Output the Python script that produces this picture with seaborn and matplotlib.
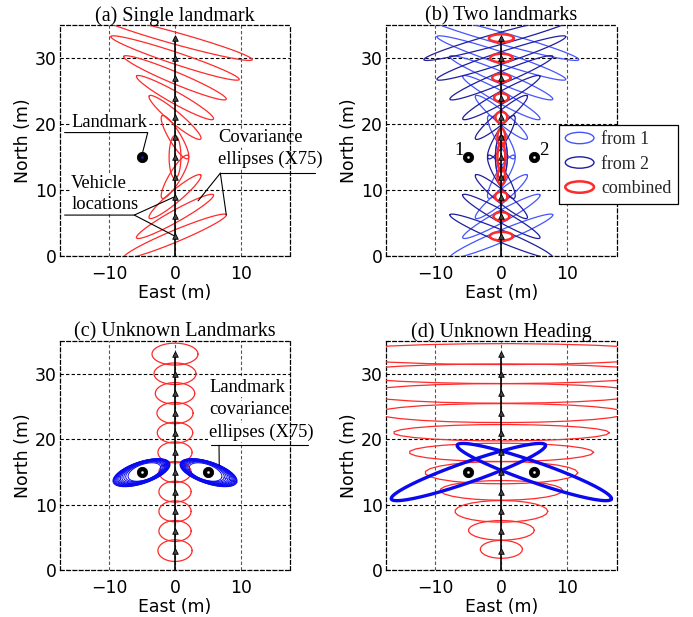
import numpy as np
import matplotlib
matplotlib.use("Agg")
import matplotlib.pyplot as plt
import matplotlib.patches as mpatches
from matplotlib.legend_handler import HandlerPatch
import seaborn as sns

# ---------------- data ----------------
# vehicle stops along the straight track (m north, east = 0)
veh_y = [3, 6, 9, 12, 15, 18, 21, 24, 27, 30, 33]
track_y = [0, 33]
landmark_x = [-5, 5]
landmark_y = [15, 15]

# (a)/(b) ellipses from a single landmark (landmark 1), X75: semi-axes and tilt (deg)
single_a = [8.45, 6.7, 5.1, 3.8, 3.25, 3.8, 5.1, 6.7, 8.45, 10.3, 12.2]
single_b = [0.9, 0.9, 0.9, 0.9, 0.9, 0.9, 0.9, 0.9, 0.9, 0.9, 0.9]
single_ang = [22.6, 29.1, 39.8, 59.0, 90.0, 121.0, 140.2, 150.9, 157.4, 161.6, 164.5]

# (b) combined ellipses: semi-axes east / north
comb_sx = [1.75, 1.2, 0.95, 0.6, 0.6, 0.6, 0.9, 1.1, 1.4, 1.7, 1.9]
comb_sy = [0.65, 0.65, 0.75, 1.2, 2.2, 1.3, 0.85, 0.65, 0.6, 0.65, 0.6]

# (c) vehicle ellipses with unknown landmarks
unk_sx = [2.6, 2.45, 2.45, 2.45, 2.45, 2.6, 2.7, 2.75, 3.0, 3.2, 3.5]
unk_sy = [1.65, 1.6, 1.6, 1.6, 1.6, 1.6, 1.6, 1.62, 1.65, 1.65, 1.67]
# (c) landmark covariance ellipses (left landmark; right one is mirrored)
lmcov_a = [4.55, 4.47, 4.38, 4.28, 4.17, 4.05, 3.92, 3.78, 3.6, 3.4, 3.15, 2.9, 2.6]
lmcov_b = [1.67, 1.65, 1.62, 1.59, 1.56, 1.53, 1.5, 1.46, 1.42, 1.37, 1.31, 1.25, 1.2]
lmcov_dx = [-0.1, -0.09, -0.07, -0.05, -0.03, 0.0, 0.04, 0.08, 0.12, 0.17, 0.22, 0.28, 0.35]
lmcov_dy = [-0.1, -0.09, -0.08, -0.07, -0.05, -0.03, -0.02, 0.0, 0.01, 0.02, 0.03, 0.03, 0.0]
lmcov_ang = 18.6

# (d) unknown heading: vehicle ellipses
head_cy = [3.2, 6.1, 9.0, 12.2, 14.9, 18.0, 21.0, 24.0, 27.0, 30.0, 33.0]
head_sx = [3.2, 5.0, 7.05, 9.3, 11.6, 14.0, 16.4, 19.0, 21.5, 24.0, 26.5]
head_sy = [1.37, 1.5, 1.65, 1.5, 1.7, 1.4, 1.25, 1.45, 1.5, 1.5, 1.6]
# (d) landmark ellipses
head_lm_a = 12.4
head_lm_b = 1.55
head_lm_ang = 19.4

# ---------------- style ----------------
sns.set_theme(style="white")
plt.rcParams["font.family"] = ["DejaVu Sans"]
plt.rcParams["axes.unicode_minus"] = True
SERIF = "Liberation Serif"
RED = "#ff2a2a"
BLUE1 = "#4455ff"
BLUE2 = "#1f1fa0"
BLUE = "#0a0aee"
DASH = (0, (3, 2))


def outline(cx, cy, a, b, ang, n=140):
    t = np.linspace(0, 2 * np.pi, n)
    th = np.deg2rad(ang)
    x = cx + a * np.cos(t) * np.cos(th) - b * np.sin(t) * np.sin(th)
    y = cy + a * np.cos(t) * np.sin(th) + b * np.sin(t) * np.cos(th)
    return x, y


def style_axes(ax, title):
    ax.set_xlim(-17.5, 17.5)
    ax.set_ylim(0, 35)
    ax.set_xticks([-10, 0, 10])
    ax.set_yticks([0, 10, 20, 30])
    ax.set_axisbelow(True)
    ax.xaxis.grid(True, color="#555555", ls=DASH, lw=0.8)
    ax.yaxis.grid(True, color="black", ls=DASH, lw=0.8)
    for s in ax.spines.values():
        s.set_visible(True)
        s.set_color("black")
        s.set_linestyle(DASH)
        s.set_linewidth(0.9)
    ax.tick_params(axis="both", length=0, labelsize=12.4, colors="black")
    ax.tick_params(axis="x", pad=6.5)
    ax.tick_params(axis="y", pad=2.5)
    ax.set_xlabel("East (m)", fontsize=12.4, labelpad=0.5, color="black")
    ax.set_ylabel("North (m)", fontsize=12.4, labelpad=2, color="black")
    ax.set_title(title, family=SERIF, fontsize=14.5, pad=3, color="black")


def draw_track(ax):
    sns.lineplot(x=[0, 0], y=track_y, estimator=None, sort=False, color="black",
                 lw=1.2, ax=ax, zorder=6)
    sns.scatterplot(x=[0] * len(veh_y), y=veh_y, marker="^", s=16, color="#444444",
                    edgecolor="black", linewidth=0.6, ax=ax, zorder=7, legend=False)


def draw_landmarks(ax, xs, ys, center="white"):
    sns.scatterplot(x=xs, y=ys, s=55, color="black", edgecolor="black",
                    ax=ax, zorder=8, legend=False)
    sns.scatterplot(x=xs, y=ys, s=3, color=center, edgecolor=center,
                    ax=ax, zorder=9, legend=False)


def label(ax, x, y, s, size=13.3):
    ax.text(x, y, s, family=SERIF, fontsize=size, ha="left", va="baseline",
            color="black", zorder=1.5, clip_on=False,
            bbox=dict(facecolor="white", edgecolor="none", pad=0.5))


fig = plt.figure(figsize=(6.93, 6.17), dpi=100)
W, H = 693, 617
axA = fig.add_axes([60 / W, 1 - 256 / H, 230 / W, 231 / H])
axB = fig.add_axes([386 / W, 1 - 256 / H, 230.7 / W, 231 / H])
axC = fig.add_axes([60 / W, 1 - 570.3 / H, 230 / W, 229.3 / H])
axD = fig.add_axes([386 / W, 1 - 570.3 / H, 230.7 / W, 229.3 / H])

# ---------------- (a) single landmark ----------------
ax = axA
style_axes(ax, "(a) Single landmark")
for y, a, b, g in zip(veh_y, single_a, single_b, single_ang):
    ex, ey = outline(0, y, a, b, g)
    ax.plot(ex, ey, color=RED, lw=0.9, zorder=3)
draw_track(ax)
draw_landmarks(ax, landmark_x[:1], landmark_y[:1], center="#2020a0")
lk = dict(color="black", lw=0.8, clip_on=False, zorder=5)
label(ax, -15.8, 19.6, "Landmark")
ax.plot([-16.8, -4.15, landmark_x[0] + 0.05], [18.7, 18.7, landmark_y[0] + 0.6], **lk)
label(ax, -15.8, 10.3, "Vehicle")
label(ax, -15.8, 7.1, "locations")
ax.plot([-16.8, -6.2, 0], [6.2, 6.2, veh_y[2]], **lk)
ax.plot([-6.2, 0], [6.2, veh_y[0]], **lk)
label(ax, 6.6, 17.2, "Covariance")
label(ax, 6.6, 13.9, "ellipses (X75)")
ax.plot([21.3, 6.9], [12.55, 12.55], **lk)
tip_x = single_a[0] * np.cos(np.deg2rad(single_ang[0]))
tip_y = veh_y[0] + single_a[0] * np.sin(np.deg2rad(single_ang[0]))
ax.plot([6.9, tip_x], [12.55, tip_y], **lk)
mid_x = 0.6 * single_a[1] * np.cos(np.deg2rad(single_ang[1]))
mid_y = veh_y[1] + 0.6 * single_a[1] * np.sin(np.deg2rad(single_ang[1])) + 0.4
ax.plot([6.9, mid_x], [12.55, mid_y], **lk)

# ---------------- (b) two landmarks ----------------
ax = axB
style_axes(ax, "(b) Two landmarks")
for y, a, b, g in zip(veh_y, single_a, single_b, single_ang):
    ex, ey = outline(0, y, a, b, g)
    ax.plot(ex, ey, color=BLUE1, lw=0.9, zorder=3)
for y, a, b, g in zip(veh_y, single_a, single_b, single_ang):
    ex, ey = outline(0, y, a, b, 180 - g)
    ax.plot(ex, ey, color=BLUE2, lw=0.9, zorder=3.1)
for y, sx, sy in zip(veh_y, comb_sx, comb_sy):
    ex, ey = outline(0, y, sx, sy, 0)
    ax.plot(ex, ey, color=RED, lw=1.8, zorder=4)
draw_track(ax)
draw_landmarks(ax, landmark_x, landmark_y)
ax.text(landmark_x[0] - 0.7, landmark_y[0] + 0.25, "1", family=SERIF, fontsize=13.5,
        ha="right", va="baseline", color="black")
ax.text(landmark_x[1] + 0.7, landmark_y[1] + 0.35, "2", family=SERIF, fontsize=13.5,
        ha="left", va="baseline", color="black")


def make_ell(legend, orig_handle, xdescent, ydescent, width, height, fontsize):
    return mpatches.Ellipse(xy=(0.5 * width - xdescent, 0.5 * height - ydescent),
                            width=width, height=height * 0.95)


handles = [mpatches.Ellipse((0, 0), 1, 1, fill=False, edgecolor=BLUE1, lw=1.0),
           mpatches.Ellipse((0, 0), 1, 1, fill=False, edgecolor=BLUE2, lw=1.0),
           mpatches.Ellipse((0, 0), 1, 1, fill=False, edgecolor=RED, lw=1.8)]
leg = ax.legend(handles, ["from 1", "from 2", "combined"],
                handler_map={mpatches.Ellipse: HandlerPatch(patch_func=make_ell)},
                loc="upper left", bbox_to_anchor=(0.75, 0.567),
                prop={"family": SERIF, "size": 12.9}, frameon=True, fancybox=False,
                edgecolor="black", framealpha=1, borderpad=0.35, handlelength=1.6,
                handleheight=0.65, handletextpad=0.4, labelspacing=0.42, borderaxespad=0)
leg.get_frame().set_linewidth(0.9)
leg.set_zorder(10)

# ---------------- (c) unknown landmarks ----------------
ax = axC
style_axes(ax, "(c) Unknown Landmarks")
for y, sx, sy in zip(veh_y, unk_sx, unk_sy):
    ex, ey = outline(0, y, sx, sy, 0)
    ax.plot(ex, ey, color=RED, lw=0.9, zorder=3)
for a, b, dx, dy in zip(lmcov_a, lmcov_b, lmcov_dx, lmcov_dy):
    ex, ey = outline(landmark_x[0] + dx, landmark_y[0] + dy, a, b, lmcov_ang)
    ax.plot(ex, ey, color=BLUE, lw=0.7, zorder=4)
    ex, ey = outline(landmark_x[1] - dx, landmark_y[1] + dy, a, b, -lmcov_ang)
    ax.plot(ex, ey, color=BLUE, lw=0.7, zorder=4)
draw_track(ax)
draw_landmarks(ax, landmark_x, landmark_y)
label(ax, 5.2, 27.2, "Landmark")
label(ax, 5.2, 23.8, "covariance")
label(ax, 5.2, 20.3, "ellipses (X75)")
px, py = outline(landmark_x[1] - lmcov_dx[0], landmark_y[1] + lmcov_dy[0],
                 lmcov_a[0], lmcov_b[0], -lmcov_ang, n=25)
ax.plot([20.2, 5.45], [19.07, 19.07], **lk)
ax.plot([6.7, px[5]], [19.07, py[5]], **lk)

# ---------------- (d) unknown heading ----------------
ax = axD
style_axes(ax, "(d) Unknown Heading")
for cy, sx, sy in zip(head_cy, head_sx, head_sy):
    ex, ey = outline(0, cy, sx, sy, 0, n=26)
    ax.plot(ex, ey, color=RED, lw=0.9, zorder=3)
ex, ey = outline(landmark_x[0], landmark_y[0], head_lm_a, head_lm_b, head_lm_ang)
ax.plot(ex, ey, color=BLUE, lw=2.4, zorder=5)
ex, ey = outline(landmark_x[1], landmark_y[1], head_lm_a, head_lm_b, -head_lm_ang)
ax.plot(ex, ey, color=BLUE, lw=2.4, zorder=5)
draw_track(ax)
draw_landmarks(ax, landmark_x, landmark_y)

fig.savefig("out.png", dpi=100)
